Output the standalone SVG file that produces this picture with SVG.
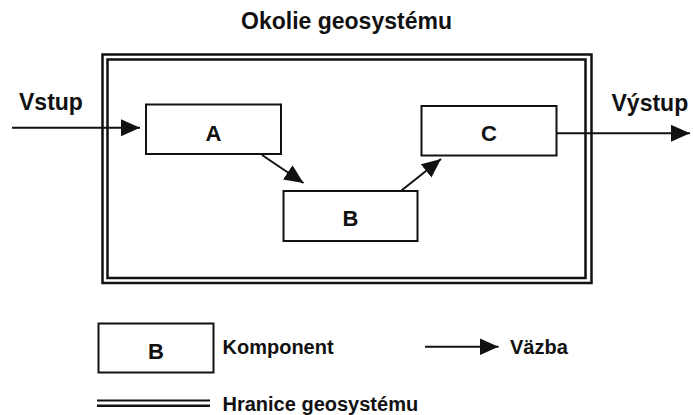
<svg xmlns="http://www.w3.org/2000/svg" width="693" height="415" viewBox="0 0 693 415">
  <style>
    text { font-family: "Liberation Sans", Arial, sans-serif; font-weight: bold; fill: #111; }
    .box { fill: #fff; stroke: #111; stroke-width: 2; }
    .frame { fill: none; stroke: #111; stroke-width: 2.5; }
    .link { fill: none; stroke: #111; stroke-width: 2; marker-end: url(#head); }
    .lbl { font-size: 22px; text-anchor: middle; }
    .side { font-size: 23px; }
    .leg { font-size: 20px; }
  </style>
  <defs>
    <marker id="head" markerUnits="userSpaceOnUse" markerWidth="21" markerHeight="18" refX="19" refY="8.5" orient="auto">
      <path d="M0,0 L19,8.5 L0,17 z" fill="#111"/>
    </marker>
  </defs>
  <rect width="693" height="415" fill="#fff"/>

  <!-- surroundings title -->
  <text x="346.5" y="28.5" font-size="23" text-anchor="middle">Okolie geosystému</text>

  <!-- geosystem boundary (double line) -->
  <g id="boundary">
    <rect class="frame" x="102.5" y="54.5" width="489" height="228.5"/>
    <rect class="frame" x="107.5" y="59.5" width="478" height="218.5"/>
  </g>

  <!-- connectors -->
  <g id="connectors">
    <line class="link" x1="12" y1="127.7" x2="140" y2="127.7"/>
    <line class="link" x1="262" y1="155" x2="303.5" y2="183"/>
    <line class="link" x1="401.5" y1="190.5" x2="441" y2="159"/>
    <line class="link" x1="557" y1="133.3" x2="690" y2="133.3"/>
  </g>

  <!-- components -->
  <g id="node-a">
    <rect class="box" x="146" y="104.5" width="135" height="49.5"/>
    <text class="lbl" x="213.5" y="140.5">A</text>
  </g>
  <g id="node-b">
    <rect class="box" x="283.5" y="191" width="134" height="50"/>
    <text class="lbl" x="350.5" y="225.5">B</text>
  </g>
  <g id="node-c">
    <rect class="box" x="421.5" y="106" width="135" height="49.5"/>
    <text class="lbl" x="489" y="140.5">C</text>
  </g>

  <!-- input / output labels -->
  <text class="side" x="19" y="110">Vstup</text>
  <text class="side" x="611.5" y="110.5">Výstup</text>

  <!-- legend -->
  <g id="legend">
    <g id="legend-component">
      <rect class="box" x="98.5" y="323.5" width="115" height="49"/>
      <text class="lbl" x="156" y="358.5">B</text>
      <text class="leg" x="222.5" y="354">Komponent</text>
    </g>
    <g id="legend-link">
      <line class="link" x1="425" y1="346.7" x2="498.5" y2="346.7"/>
      <text class="leg" x="510" y="354">Väzba</text>
    </g>
    <g id="legend-boundary">
      <line x1="97" y1="400.5" x2="210" y2="400.5" stroke="#111" stroke-width="2"/>
      <line x1="97" y1="405.7" x2="210" y2="405.7" stroke="#111" stroke-width="2.5"/>
      <text class="leg" x="222.5" y="411">Hranice geosystému</text>
    </g>
  </g>
</svg>
